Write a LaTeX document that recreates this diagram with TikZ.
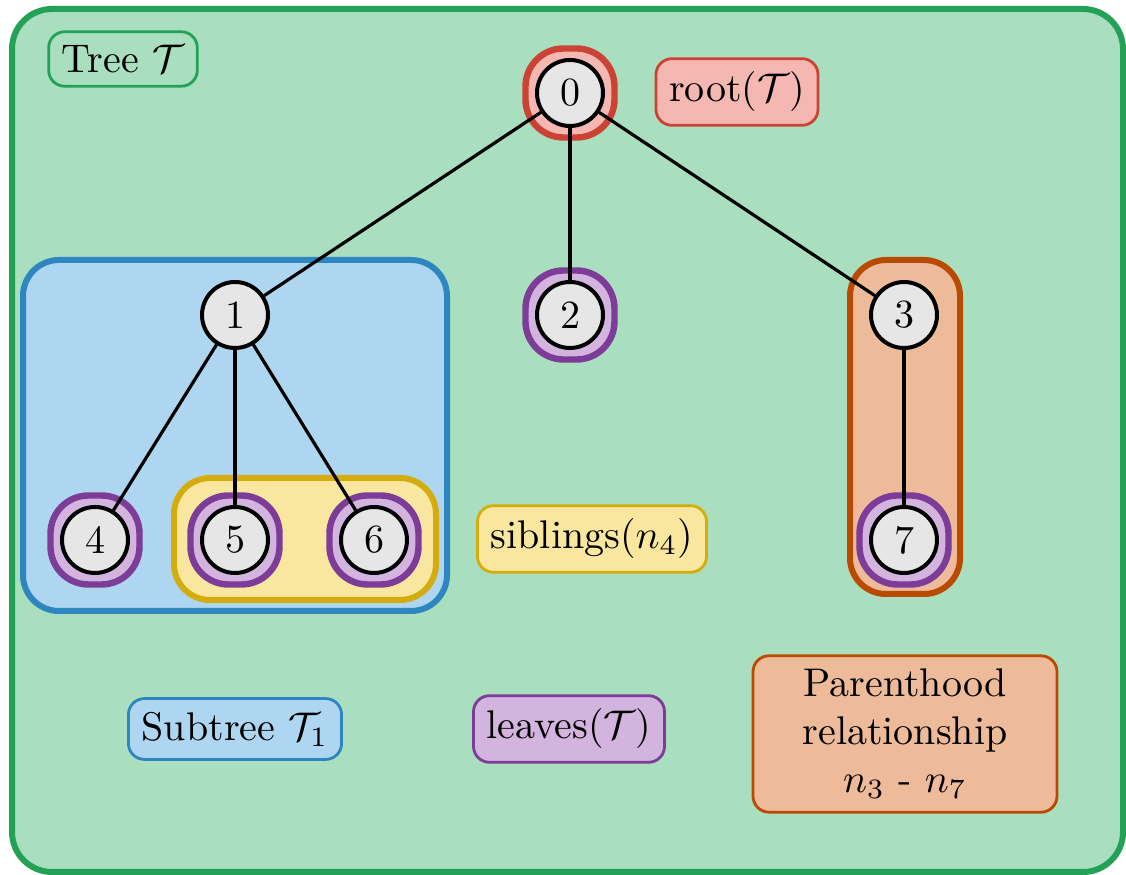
\documentclass[tikz,border=0pt]{standalone}
\usetikzlibrary{positioning}
\definecolor{grnD}{HTML}{23A157}
\definecolor{grnL}{HTML}{A9DFBF}
\definecolor{bluD}{HTML}{2E86C1}
\definecolor{bluL}{HTML}{AED6F1}
\definecolor{yelD}{HTML}{D4AC0D}
\definecolor{yelL}{HTML}{F9E79F}
\definecolor{orD}{HTML}{BA4A00}
\definecolor{orL}{HTML}{EDBB99}
\definecolor{purD}{HTML}{7D3C98}
\definecolor{purL}{HTML}{D2B4DE}
\definecolor{redD}{HTML}{CB4335}
\definecolor{redL}{HTML}{F5B7B1}
\definecolor{nodeG}{HTML}{E6E6E6}
\pgfdeclarelayer{back}
\pgfdeclarelayer{mid}
\pgfdeclarelayer{hl}
\pgfsetlayers{back,mid,hl,main}
\tikzset{
  tnode/.style={circle, draw=black, line width=1pt, fill=nodeG, minimum size=16.5pt, inner sep=0pt},
  edge/.style={line width=0.8pt},
  ring/.style={draw=#1D, fill=#1L, line width=1.6pt, rounded corners=9.5pt, minimum size=22.25pt, inner sep=0pt},
  bigbox/.style={draw=#1D, fill=#1L, line width=1.5pt, rounded corners=9pt},
  lbl/.style={draw=#1D, fill=#1L, line width=0.7pt, rounded corners=4pt, inner sep=3.33pt}
}
\begin{document}
\begin{tikzpicture}[x=0.25pt, y=-0.25pt]
\useasboundingbox (0,0) rectangle (1126,875);
% nodes
\node[tnode] (n0) at (570,93) {0};
\node[tnode] (n1) at (235,315) {1};
\node[tnode] (n2) at (570,315) {2};
\node[tnode] (n3) at (904,315) {3};
\node[tnode] (n4) at (95,540) {4};
\node[tnode] (n5) at (235,540) {5};
\node[tnode] (n6) at (374,540) {6};
\node[tnode] (n7) at (904,540) {7};
% edges
\draw[edge] (n0) -- (n1);
\draw[edge] (n0) -- (n2);
\draw[edge] (n0) -- (n3);
\draw[edge] (n1) -- (n4);
\draw[edge] (n1) -- (n5);
\draw[edge] (n1) -- (n6);
\draw[edge] (n3) -- (n7);
% background boxes
\begin{pgfonlayer}{back}
\draw[draw=grnD, fill=grnL, line width=1.5pt, rounded corners=10pt] (12,9) rectangle (1123,872);
\end{pgfonlayer}
\begin{pgfonlayer}{mid}
\draw[bigbox=blu] (23,260) rectangle (447,611);
\draw[bigbox=yel] (174,478) rectangle (436,600);
\draw[bigbox=or] (850,260) rectangle (960,594);
\end{pgfonlayer}
\begin{pgfonlayer}{hl}
\node[ring=red] (h0) at (n0) {};
\node[ring=pur] (h2) at (n2) {};
\node[ring=pur] (h4) at (n4) {};
\node[ring=pur] (h5) at (n5) {};
\node[ring=pur] (h6) at (n6) {};
\node[ring=pur] (h7) at (n7) {};
\end{pgfonlayer}
% labels
\node[lbl=grn] (lt) at (123,59) {Tree $\mathcal{T}$};
\node[lbl=red] (lr) at (737,92) {root($\mathcal{T}$)};
\node[lbl=yel] (ls) at (592,539) {siblings($n_4$)};
\node[lbl=blu] (lsub) at (235,729) {Subtree $\mathcal{T}_1$};
\node[lbl=pur] (ll) at (569,729) {leaves($\mathcal{T}$)};
\node[lbl=or, align=center, minimum width=76pt, minimum height=38pt] (lp) at (905,734) {Parenthood\\relationship\\$n_3$ - $n_7$};
\end{tikzpicture}
\end{document}
